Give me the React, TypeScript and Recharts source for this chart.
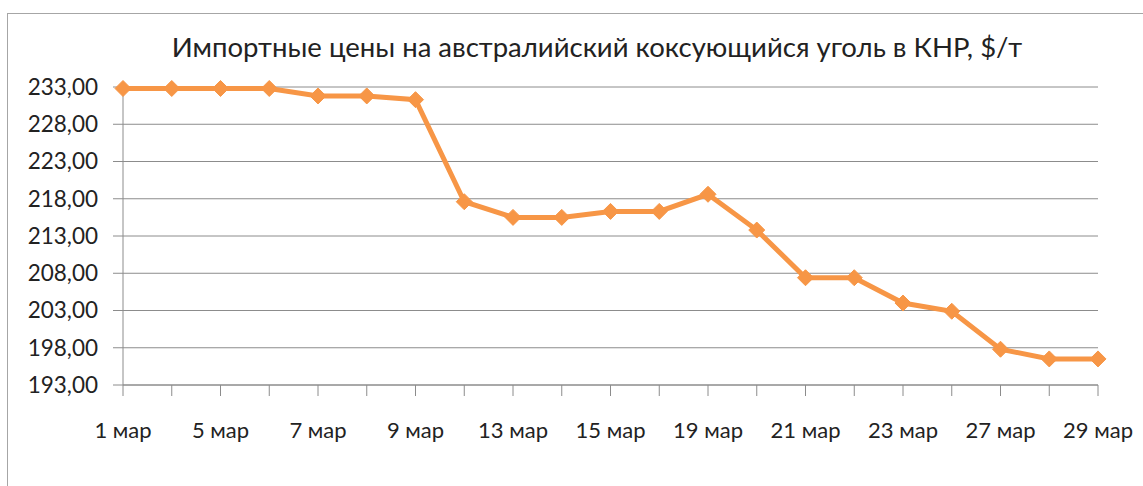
import React from 'react';
import { LineChart, Line, XAxis, YAxis, CartesianGrid } from 'recharts';

const categories = ['1 мар', '2 мар', '5 мар', '6 мар', '7 мар', '8 мар', '9 мар', '12 мар', '13 мар', '14 мар', '15 мар', '16 мар', '19 мар', '20 мар', '21 мар', '22 мар', '23 мар', '26 мар', '27 мар', '28 мар', '29 мар'];
const prices = [232.8, 232.8, 232.8, 232.8, 231.8, 231.8, 231.3, 217.6, 215.5, 215.5, 216.3, 216.3, 218.6, 213.8, 207.4, 207.4, 204.0, 202.9, 197.8, 196.5, 196.5];
const yTicks = [193, 198, 203, 208, 213, 218, 223, 228, 233];
const title = 'Импортные цены на австралийский коксующийся уголь в КНР, $/т';

const data = categories.map((c, i) => ({ date: c, price: prices[i] }));

const FONT = "Lato, 'Noto Sans', sans-serif";
const ORANGE = '#F79646';

const Diamond = (props: any) => {
  const { cx, cy } = props;
  if (cx == null || cy == null) return null;
  const r = 8;
  return (
    <polygon
      points={`${cx},${cy - r} ${cx + r},${cy} ${cx},${cy + r} ${cx - r},${cy}`}
      fill={ORANGE}
      stroke={ORANGE}
      strokeWidth={1}
    />
  );
};

export default function App() {
  return (
    <div style={{ position: 'absolute', left: 0, top: 0, width: 1143, height: 486, overflow: 'hidden', background: '#fff' }}>
      <div style={{ position: 'absolute', left: 7, top: 13, width: 1300, height: 700, border: '1.5px solid #a6a6a6', boxSizing: 'border-box' }} />
      <div style={{ position: 'absolute', left: 0, top: 29, width: 1194, textAlign: 'center', fontFamily: FONT, fontSize: 27.5, color: '#222', lineHeight: '36px' }}>
        {title}
      </div>
      <div style={{ position: 'absolute', left: 0, top: 0 }}>
        <LineChart width={1143} height={486} data={data} margin={{ top: 87, right: 45, bottom: 0, left: 0 }}>
          <CartesianGrid vertical={false} stroke="#8c8c8c" strokeWidth={1} />
          <XAxis
            dataKey="date"
            interval={0}
            height={101}
            tickSize={11}
            tickMargin={26}
            tickLine={{ stroke: '#8c8c8c' }}
            axisLine={{ stroke: '#8c8c8c' }}
            tick={{ fill: '#222', fontSize: 22, fontFamily: FONT }}
            tickFormatter={(v: string, i: number) => (i % 2 === 0 ? v : '')}
          />
          <YAxis
            domain={[193, 233]}
            ticks={yTicks}
            width={123}
            tickSize={10}
            tickMargin={15}
            tickLine={{ stroke: '#8c8c8c' }}
            axisLine={{ stroke: '#8c8c8c' }}
            tick={{ fill: '#222', fontSize: 22.5, fontFamily: FONT }}
            tickFormatter={(v: number) => v.toFixed(2).replace('.', ',')}
          />
          <Line
            type="linear"
            dataKey="price"
            stroke={ORANGE}
            strokeWidth={5}
            dot={<Diamond />}
            activeDot={false}
            isAnimationActive={false}
          />
        </LineChart>
      </div>
    </div>
  );
}
